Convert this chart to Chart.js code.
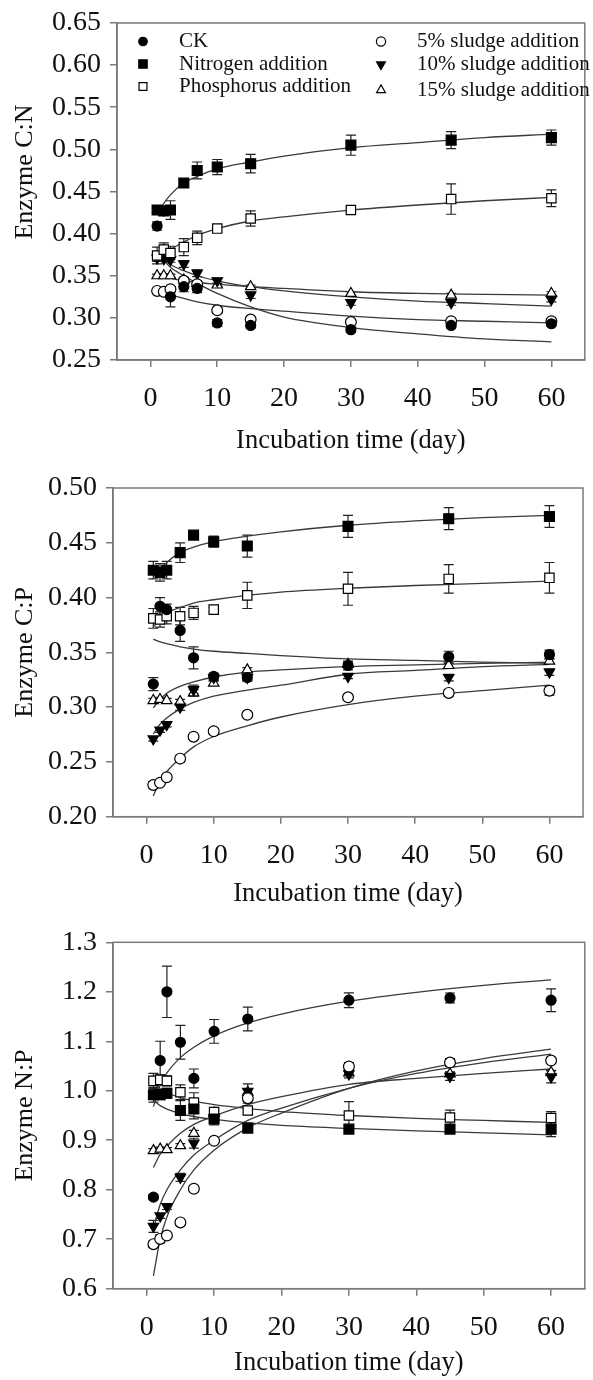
<!DOCTYPE html>
<html>
<head>
<meta charset="utf-8">
<script src="https://cdn.jsdelivr.net/npm/chart.js@4/dist/chart.umd.min.js"></script>
<style>
  html, body { margin: 0; padding: 0; background: #fff; }
  .panel { position: absolute; left: 0; width: 593px; }
</style>
</head>
<body>
<div class="panel" style="top:0;height:465px"><canvas id="cn" width="593" height="465"></canvas></div>
<div class="panel" style="top:465px;height:450px"><canvas id="cp" width="593" height="450"></canvas></div>
<div class="panel" style="top:915px;height:465px"><canvas id="np" width="593" height="465"></canvas></div>
<script>
// sampling days and axis ticks
const days = [1, 2, 3, 5, 7, 10, 15, 30, 45, 60];
const fitDays = [1, 1.5, 2, 3, 5, 7, 10, 15, 20, 30, 40, 50, 60];
const xTicks = [0, 10, 20, 30, 40, 50, 60];
const seriesNames = ["CK", "Nitrogen addition", "Phosphorus addition",
  "5% sludge addition", "10% sludge addition", "15% sludge addition"];

// Enzyme C:N
const cnTicks = [0.25, 0.30, 0.35, 0.40, 0.45, 0.50, 0.55, 0.60, 0.65];
const cnCK = [0.409, 0.427, 0.325, 0.337, 0.335, 0.294, 0.291, 0.286, 0.291, 0.293];
const cnN = [0.428, 0.427, 0.428, 0.460, 0.475, 0.479, 0.483, 0.505, 0.511, 0.514];
const cnP = [0.374, 0.381, 0.377, 0.384, 0.395, 0.406, 0.418, 0.428, 0.441, 0.442];
const cnS5 = [0.332, 0.331, 0.334, 0.344, 0.340, 0.309, 0.298, 0.295, 0.296, 0.296];
const cnS10 = [0.371, 0.370, 0.369, 0.364, 0.353, 0.344, 0.327, 0.318, 0.318, 0.322];
const cnS15 = [0.350, 0.350, 0.350, 0.345, 0.341, 0.339, 0.337, 0.329, 0.327, 0.329];
const cnErrCK = [0.005, 0, 0.012, 0.006, 0.005, 0.004, 0.003, 0.003, 0.003, 0.003];
const cnErrN = [0.004, 0.005, 0.011, 0.005, 0.010, 0.009, 0.011, 0.012, 0.010, 0.009];
const cnErrP = [0.010, 0.008, 0.008, 0.010, 0.008, 0.003, 0.009, 0.003, 0.018, 0.010];
const cnErrS5 = [0.003, 0.003, 0.003, 0.004, 0.004, 0.003, 0.002, 0.002, 0.002, 0.003];
const cnErrS10 = [0.004, 0.003, 0.003, 0.004, 0.004, 0.003, 0.004, 0.003, 0.003, 0.003];
const cnErrS15 = [0.002, 0.002, 0.002, 0.002, 0.002, 0.002, 0.002, 0.002, 0.002, 0.002];
const cnFitCK = [null, 0.372, 0.368, 0.360, 0.350, 0.341, 0.329, 0.313, 0.301, 0.2885, 0.281, 0.275, 0.2716];
const cnFitN = [null, 0.430, 0.436, 0.446, 0.460, 0.468, 0.477, 0.485, 0.492, 0.502, 0.508, 0.514, 0.518];
const cnFitP = [null, 0.370, 0.374, 0.381, 0.390, 0.398, 0.406, 0.415, 0.420, 0.428, 0.434, 0.439, 0.443];
const cnFitS5 = [0.338, 0.335, 0.332, 0.328, 0.323, 0.319, 0.315, 0.311, 0.308, 0.302, 0.298, 0.296, 0.294];
const cnFitS10 = [null, 0.370, 0.368, 0.363, 0.356, 0.350, 0.344, 0.337, 0.332, 0.325, 0.320, 0.317, 0.314];
const cnFitS15 = [0.350, 0.349, 0.348, 0.347, 0.344, 0.342, 0.340, 0.337, 0.335, 0.331, 0.329, 0.328, 0.327];

// Enzyme C:P
const cpTicks = [0.20, 0.25, 0.30, 0.35, 0.40, 0.45, 0.50];
const cpCK = [0.321, 0.392, 0.389, 0.370, 0.345, 0.328, 0.327, 0.338, 0.346, 0.348];
const cpN = [0.425, 0.423, 0.425, 0.441, 0.457, 0.451, 0.447, 0.465, 0.472, 0.474];
const cpP = [0.381, 0.380, 0.383, 0.383, 0.386, 0.389, 0.402, 0.408, 0.417, 0.418];
const cpS5 = [0.229, 0.231, 0.236, 0.253, 0.273, 0.278, 0.293, 0.309, 0.313, 0.315];
const cpS10 = [0.271, 0.279, 0.284, 0.300, 0.316, 0.327, 0.327, 0.328, 0.327, 0.332];
const cpS15 = [0.306, 0.307, 0.306, 0.305, 0.313, 0.322, 0.334, 0.339, 0.338, 0.342];
const cpErrCK = [0.006, 0.008, 0.005, 0.010, 0.010, 0.003, 0.003, 0.004, 0.005, 0.004];
const cpErrN = [0.008, 0.008, 0.008, 0.009, 0.002, 0.005, 0.010, 0.010, 0.010, 0.010];
const cpErrP = [0.009, 0.007, 0.007, 0.008, 0.006, 0.002, 0.012, 0.015, 0.013, 0.014];
const cpErrS5 = [0.003, 0.002, 0.002, 0.003, 0.002, 0.002, 0.002, 0.002, 0.003, 0.004];
const cpErrS10 = [0.002, 0.002, 0.002, 0.003, 0.004, 0.003, 0.003, 0.002, 0.003, 0.003];
const cpErrS15 = [0.002, 0.002, 0.002, 0.002, 0.003, 0.002, 0.002, 0.002, 0.002, 0.002];
const cpFitCK = [0.362, null, 0.3595, 0.358, 0.355, 0.353, 0.351, 0.349, 0.347, 0.344, 0.3426, 0.341, 0.340];
const cpFitN = [null, null, 0.425, 0.432, 0.441, 0.446, 0.451, 0.456, 0.460, 0.466, 0.470, 0.473, 0.475];
const cpFitP = [0.373, null, 0.381, 0.386, 0.391, 0.395, 0.398, 0.402, 0.405, 0.4085, 0.411, 0.413, 0.415];
const cpFitS5 = [0.219, null, 0.2326, 0.241, 0.2534, 0.2637, 0.2732, 0.283, 0.291, 0.3023, 0.310, 0.315, 0.320];
const cpFitS10 = [0.2756, null, 0.2845, 0.290, 0.2984, 0.3043, 0.310, 0.3156, 0.320, 0.330, 0.3335, 0.337, 0.339];
const cpFitS15 = [0.2993, null, 0.307, 0.3127, 0.319, 0.323, 0.3275, 0.332, 0.334, 0.337, 0.3385, 0.340, 0.341];

// Enzyme N:P
const npTicks = [0.6, 0.7, 0.8, 0.9, 1.0, 1.1, 1.2, 1.3];
const npCK = [0.785, 1.061, 1.200, 1.098, 1.025, 1.120, 1.145, 1.183, 1.1875, 1.183];
const npN = [0.992, 0.992, 0.995, 0.960, 0.963, 0.943, 0.9245, 0.9225, 0.9225, 0.9225];
const npP = [1.020, 1.022, 1.020, 0.997, 0.976, 0.957, 0.960, 0.950, 0.946, 0.945];
const npS5 = [0.690, 0.7006, 0.7075, 0.734, 0.802, 0.899, 0.985, 1.049, 1.057, 1.061];
const npS10 = [0.726, 0.747, 0.766, 0.825, 0.894, 0.945, 0.999, 1.034, 1.029, 1.028];
const npS15 = [0.879, 0.882, 0.881, 0.889, 0.914, 0.955, 0.997, 1.036, 1.034, 1.037];
const npErrCK = [0.005, 0.039, 0.052, 0.034, 0.019, 0.024, 0.024, 0.015, 0.010, 0.023];
const npErrN = [0.015, 0.010, 0.010, 0.020, 0.020, 0.012, 0.005, 0.006, 0.008, 0.015];
const npErrP = [0.015, 0.010, 0.010, 0.015, 0.020, 0.006, 0.008, 0.028, 0.015, 0.013];
const npErrS5 = [0.006, 0.008, 0.005, 0.005, 0.006, 0.005, 0.010, 0.008, 0.008, 0.005];
const npErrS10 = [0.012, 0.005, 0.006, 0.008, 0.010, 0.005, 0.015, 0.008, 0.008, 0.012];
const npErrS15 = [0.004, 0.004, 0.004, 0.004, 0.006, 0.004, 0.006, 0.004, 0.004, 0.004];
const npFitCK = [0.968, null, 1.011, 1.036, 1.067, 1.088, 1.111, 1.137, 1.155, 1.181, 1.199, 1.213, 1.224];
const npFitN = [0.980, null, 0.970, 0.963, 0.954, 0.948, 0.942, 0.935, 0.930, 0.924, 0.919, 0.915, 0.911];
const npFitP = [1.017, null, 1.004, 0.996, 0.986, 0.979, 0.972, 0.964, 0.958, 0.950, 0.944, 0.940, 0.936];
const npFitS5 = [0.626, null, 0.700, 0.745, 0.800, 0.840, 0.880, 0.925, 0.955, 1.005, 1.040, 1.065, 1.084];
const npFitS10 = [0.720, null, 0.770, 0.800, 0.840, 0.870, 0.900, 0.940, 0.965, 1.005, 1.035, 1.057, 1.074];
const npFitS15 = [0.845, null, 0.872, 0.888, 0.914, 0.932, 0.949, 0.972, 0.988, 1.013, 1.025, 1.035, 1.044];

const FONT = "'Liberation Serif', 'Times New Roman', serif";
const AXIS = "#7a7a7a";

// marker look for each series, same order as seriesNames
const markers = [
  { style: "circle", radius: 5, fill: "#000" },
  { style: "rect", radius: 7, fill: "#000" },
  { style: "rect", radius: 6.6, fill: "#fff" },
  { style: "circle", radius: 5.4, fill: "#fff" },
  { style: "triangle", radius: 6, rotation: 180, fill: "#000" },
  { style: "triangle", radius: 6, fill: "#fff" },
];

// vertical error bars with caps, drawn under the markers
const errorBars = {
  id: "errorBars",
  beforeDatasetsDraw(chart) {
    const { ctx, scales: { x, y } } = chart;
    ctx.save();
    ctx.strokeStyle = "#222";
    ctx.lineWidth = 1.2;
    chart.data.datasets.forEach((ds) => {
      if (!ds.err) return;
      ds.data.forEach((p, i) => {
        const e = ds.err[i];
        if (!e) return;
        const px = x.getPixelForValue(p.x);
        const top = y.getPixelForValue(p.y + e);
        const bot = y.getPixelForValue(p.y - e);
        ctx.beginPath();
        ctx.moveTo(px, top); ctx.lineTo(px, bot);
        ctx.moveTo(px - 5, top); ctx.lineTo(px + 5, top);
        ctx.moveTo(px - 5, bot); ctx.lineTo(px + 5, bot);
        ctx.stroke();
      });
    });
    ctx.restore();
  },
};

// box around the plot area
const frame = {
  id: "frame",
  afterDraw(chart) {
    const { ctx, chartArea: a } = chart;
    ctx.save();
    ctx.strokeStyle = AXIS;
    ctx.lineWidth = 1.5;
    ctx.strokeRect(a.left, a.top, a.right - a.left, a.bottom - a.top);
    ctx.restore();
  },
};

function drawMarker(ctx, m, x, y, scale) {
  ctx.save();
  ctx.fillStyle = m.fill;
  ctx.strokeStyle = "#000";
  ctx.lineWidth = 1.2;
  Chart.helpers.drawPoint(ctx, {
    pointStyle: m.style, radius: m.radius * scale,
    rotation: m.rotation || 0, borderWidth: 1.2,
  }, x, y);
  ctx.restore();
}

// two-column legend inside the first panel
const insideLegend = {
  id: "insideLegend",
  afterDraw(chart) {
    const { ctx, chartArea: a } = chart;
    const cols = [{ mx: 26, tx: 62 }, { mx: 264, tx: 300 }];
    const rows = [[18.5, 41, 63.5], [18.5, 41.5, 67]];
    ctx.save();
    ctx.font = "21px " + FONT;
    ctx.fillStyle = "#111";
    ctx.textBaseline = "middle";
    seriesNames.forEach((name, k) => {
      const c = Math.floor(k / 3), r = k % 3;
      const yy = a.top + rows[c][r];
      drawMarker(ctx, markers[k], a.left + cols[c].mx, yy, 0.85);
      ctx.fillText(name, a.left + cols[c].tx, yy);
    });
    ctx.restore();
  },
};

function buildDatasets(values, errors, fits) {
  const sets = [];
  fits.forEach((f) => {
    sets.push({
      data: fitDays.map((d, i) => ({ x: d, y: f[i] })),
      showLine: true, spanGaps: true,
      borderColor: "#3a3a3a", borderWidth: 1.3,
      pointRadius: 0, cubicInterpolationMode: "monotone",
      order: 2,
    });
  });
  values.forEach((vals, k) => {
    const m = markers[k];
    sets.push({
      label: seriesNames[k],
      data: days.map((d, i) => ({ x: d, y: vals[i] })),
      err: errors[k],
      showLine: false,
      pointStyle: m.style, pointRadius: m.radius, pointRotation: m.rotation || 0,
      pointBackgroundColor: m.fill, pointBorderColor: "#000", pointBorderWidth: 1.2,
      order: 1,
    });
  });
  return sets;
}

function makeChart(id, cfg) {
  const canvas = document.getElementById(id);
  return new Chart(canvas, {
    type: "scatter",
    data: { datasets: buildDatasets(cfg.values, cfg.errors, cfg.fits) },
    plugins: cfg.legend ? [errorBars, frame, insideLegend] : [errorBars, frame],
    options: {
      responsive: false,
      animation: false,
      events: [],
      layout: { padding: { top: cfg.top, right: cfg.right, left: 0, bottom: 0 } },
      plugins: { legend: { display: false }, tooltip: { enabled: false } },
      scales: {
        x: {
          type: "linear", min: -5, max: 65,
          afterBuildTicks: (s) => { s.ticks = xTicks.map((v) => ({ value: v })); },
          afterFit: (s) => { s.height = cfg.xh; },
          ticks: { font: { family: FONT, size: 28, lineHeight: 1 }, color: "#111", padding: 18 },
          grid: { drawOnChartArea: false, drawTicks: true, tickLength: 7, color: AXIS, lineWidth: 1.5 },
          border: { display: true, color: AXIS, width: 1.5 },
          title: {
            display: true, text: "Incubation time (day)", color: "#111",
            font: { family: FONT, size: 26.5, lineHeight: 1 }, padding: { top: 0, bottom: cfg.titlePad },
          },
        },
        y: {
          type: "linear", min: cfg.yTicks[0], max: cfg.yTicks[cfg.yTicks.length - 1],
          afterBuildTicks: (s) => { s.ticks = cfg.yTicks.map((v) => ({ value: v })); },
          afterFit: (s) => { s.width = cfg.left; },
          ticks: {
            font: { family: FONT, size: 28, lineHeight: 1 }, color: "#111", padding: 9,
            callback: (v) => v.toFixed(cfg.digits),
          },
          grid: { drawOnChartArea: false, drawTicks: true, tickLength: 7, color: AXIS, lineWidth: 1.5 },
          border: { display: true, color: AXIS, width: 1.5 },
          title: {
            display: true, text: cfg.yTitle, color: "#111",
            font: { family: FONT, size: 26, lineHeight: 1 }, padding: { top: 12, bottom: 0 },
          },
        },
      },
    },
  });
}

makeChart("cn", {
  values: [cnCK, cnN, cnP, cnS5, cnS10, cnS15],
  errors: [cnErrCK, cnErrN, cnErrP, cnErrS5, cnErrS10, cnErrS15],
  fits: [cnFitCK, cnFitN, cnFitP, cnFitS5, cnFitS10, cnFitS15],
  yTicks: cnTicks, digits: 2,
  yTitle: "\u00a0\u00a0\u00a0\u00a0\u00a0\u00a0Enzyme C:N",
  top: 21, right: 4, left: 117, xh: 105, titlePad: 11, legend: true,
});
makeChart("cp", {
  values: [cpCK, cpN, cpP, cpS5, cpS10, cpS15],
  errors: [cpErrCK, cpErrN, cpErrP, cpErrS5, cpErrS10, cpErrS15],
  fits: [cpFitCK, cpFitN, cpFitP, cpFitS5, cpFitS10, cpFitS15],
  yTicks: cpTicks, digits: 2, yTitle: "Enzyme C:P",
  top: 14.3, right: 10, left: 113, xh: 98.3, titlePad: 8,
});
makeChart("np", {
  values: [npCK, npN, npP, npS5, npS10, npS15],
  errors: [npErrCK, npErrN, npErrP, npErrS5, npErrS10, npErrS15],
  fits: [npFitCK, npFitN, npFitP, npFitS5, npFitS10, npFitS15],
  yTicks: npTicks, digits: 1, yTitle: "Enzyme N:P",
  top: 27.3, right: 1, left: 113, xh: 91.3, titlePad: 4,
});
</script>
</body>
</html>
